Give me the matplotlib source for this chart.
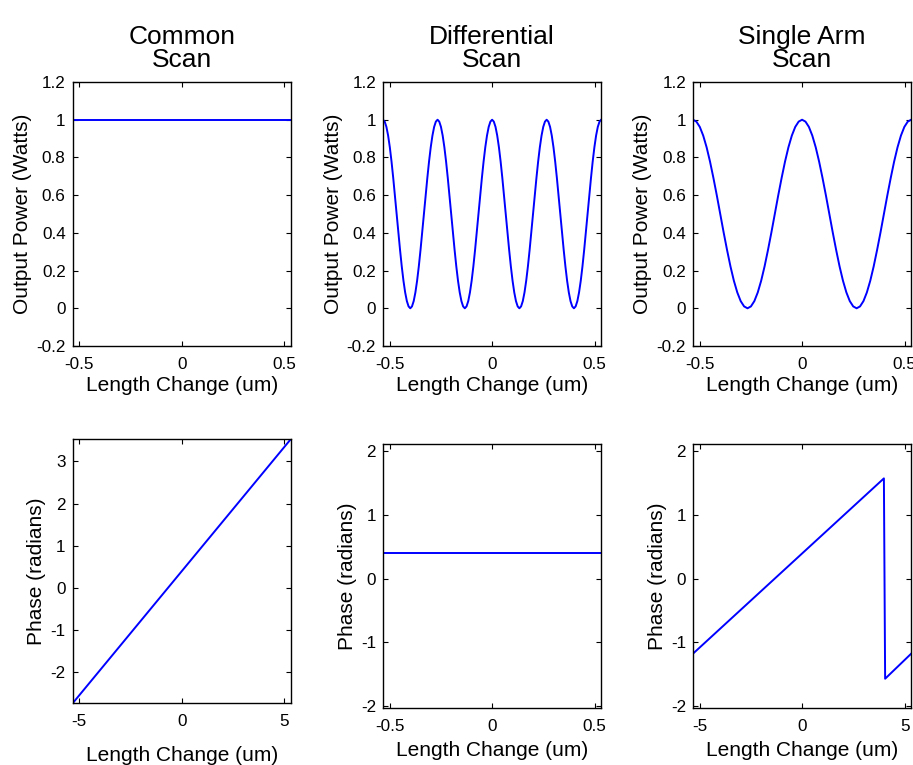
import numpy as np
import matplotlib
matplotlib.use("Agg")
import matplotlib.pyplot as plt

plt.rcParams['font.family'] = ['Liberation Sans', 'DejaVu Sans']

# ---- data ----
titles = ["Common\nScan", "Differential\nScan", "Single Arm\nScan"]

# top row: output power vs length change (um)
common_power_x = [-0.532, 0.532]
common_power = [1.0, 1.0]

# differential scan: 129 samples across +/-0.532 um (4 fringes)
diff_power_x = np.linspace(-0.532, 0.532, 129)
diff_power = [
    1.000, 0.990, 0.962, 0.916, 0.854, 0.778, 0.691, 0.598, 0.500, 0.402, 0.309, 0.222, 0.146, 0.084, 0.038, 0.010,
    0.000, 0.010, 0.038, 0.084, 0.146, 0.222, 0.309, 0.402, 0.500, 0.598, 0.691, 0.778, 0.854, 0.916, 0.962, 0.990,
    1.000, 0.990, 0.962, 0.916, 0.854, 0.778, 0.691, 0.598, 0.500, 0.402, 0.309, 0.222, 0.146, 0.084, 0.038, 0.010,
    0.000, 0.010, 0.038, 0.084, 0.146, 0.222, 0.309, 0.402, 0.500, 0.598, 0.691, 0.778, 0.854, 0.916, 0.962, 0.990,
    1.000, 0.990, 0.962, 0.916, 0.854, 0.778, 0.691, 0.598, 0.500, 0.402, 0.309, 0.222, 0.146, 0.084, 0.038, 0.010,
    0.000, 0.010, 0.038, 0.084, 0.146, 0.222, 0.309, 0.402, 0.500, 0.598, 0.691, 0.778, 0.854, 0.916, 0.962, 0.990,
    1.000, 0.990, 0.962, 0.916, 0.854, 0.778, 0.691, 0.598, 0.500, 0.402, 0.309, 0.222, 0.146, 0.084, 0.038, 0.010,
    0.000, 0.010, 0.038, 0.084, 0.146, 0.222, 0.309, 0.402, 0.500, 0.598, 0.691, 0.778, 0.854, 0.916, 0.962, 0.990,
    1.000,
]

# single arm scan: 65 samples across +/-0.532 um (2 fringes)
single_power_x = np.linspace(-0.532, 0.532, 65)
single_power = [
    1.000, 0.990, 0.962, 0.916, 0.854, 0.778, 0.691, 0.598, 0.500, 0.402, 0.309, 0.222, 0.146, 0.084, 0.038, 0.010,
    0.000, 0.010, 0.038, 0.084, 0.146, 0.222, 0.309, 0.402, 0.500, 0.598, 0.691, 0.778, 0.854, 0.916, 0.962, 0.990,
    1.000, 0.990, 0.962, 0.916, 0.854, 0.778, 0.691, 0.598, 0.500, 0.402, 0.309, 0.222, 0.146, 0.084, 0.038, 0.010,
    0.000, 0.010, 0.038, 0.084, 0.146, 0.222, 0.309, 0.402, 0.500, 0.598, 0.691, 0.778, 0.854, 0.916, 0.962, 0.990,
    1.000,
]

# bottom row: phase (radians)
common_phase_x = [-5.32, 5.32]
common_phase = [-2.749, 3.534]

diff_phase_x = [-0.532, 0.532]
diff_phase = [0.393, 0.393]

single_phase_x = [-5.32, 3.99, 4.05, 5.32]
single_phase = [-1.178, 1.571, -1.571, -1.178]

# ---- figure ----
fig = plt.figure(figsize=(9.13, 7.65), dpi=100, facecolor='white')

col_left = [0.0796, 0.4195, 0.7590]
ax_w = 0.2390
top_row = (0.5477, 0.3451)
bot_rows = [(0.0807, 0.3454), (0.0745, 0.3451), (0.0745, 0.3451)]
bot_labelpad = [12, 5, 5]

blue = (0, 0, 1)
lw = 1.4


def style(ax):
    ax.tick_params(direction='in', length=3.5, width=0.8, top=True, right=True,
                   labelsize=12.3)
    ax.tick_params(axis='x', pad=8)
    ax.tick_params(axis='y', pad=5)
    for s in ax.spines.values():
        s.set_linewidth(1.0)


top_axes = []
for i in range(3):
    ax = fig.add_axes([col_left[i], top_row[0], ax_w, top_row[1]])
    top_axes.append(ax)
    style(ax)
    ax.set_xlim(-0.532, 0.532)
    ax.set_ylim(-0.2, 1.2)
    ax.set_xticks([-0.5, 0, 0.5])
    ax.set_xticklabels(['-0.5', '0', '0.5'])
    ax.set_yticks([-0.2, 0, 0.2, 0.4, 0.6, 0.8, 1.0, 1.2])
    ax.set_yticklabels(['-0.2', '0', '0.2', '0.4', '0.6', '0.8', '1', '1.2'])
    ax.set_xlabel('Length Change (um)', fontsize=15, labelpad=3)
    ax.set_ylabel('Output Power (Watts)', fontsize=15, labelpad=3)
    ax.set_title(titles[i], fontsize=19, pad=11, linespacing=0.95)

top_axes[0].plot(common_power_x, common_power, color=blue, lw=lw)
top_axes[1].plot(diff_power_x, diff_power, color=blue, lw=lw)
top_axes[2].plot(single_power_x, single_power, color=blue, lw=lw)

bot_axes = []
for i in range(3):
    b, h = bot_rows[i]
    ax = fig.add_axes([col_left[i], b, ax_w, h])
    bot_axes.append(ax)
    style(ax)
    ax.set_xlabel('Length Change (um)', fontsize=15, labelpad=bot_labelpad[i])
    ax.set_ylabel('Phase (radians)', fontsize=15, labelpad=3)

ax = bot_axes[0]
ax.plot(common_phase_x, common_phase, color=blue, lw=lw)
ax.set_xlim(-5.32, 5.32)
ax.set_ylim(-2.749, 3.534)
ax.set_xticks([-5, 0, 5])
ax.set_xticklabels(['-5', '0', '5'])
ax.set_yticks([-2, -1, 0, 1, 2, 3])
ax.set_yticklabels(['-2', '-1', '0', '1', '2', '3'])

ax = bot_axes[1]
ax.plot(diff_phase_x, diff_phase, color=blue, lw=lw)
ax.set_xlim(-0.532, 0.532)
ax.set_ylim(-2.03, 2.11)
ax.set_xticks([-0.5, 0, 0.5])
ax.set_xticklabels(['-0.5', '0', '0.5'])
ax.set_yticks([-2, -1, 0, 1, 2])
ax.set_yticklabels(['-2', '-1', '0', '1', '2'])

ax = bot_axes[2]
ax.plot(single_phase_x, single_phase, color=blue, lw=lw)
ax.set_xlim(-5.32, 5.32)
ax.set_ylim(-2.03, 2.11)
ax.set_xticks([-5, 0, 5])
ax.set_xticklabels(['-5', '0', '5'])
ax.set_yticks([-2, -1, 0, 1, 2])
ax.set_yticklabels(['-2', '-1', '0', '1', '2'])

fig.savefig('out.png', dpi=100, facecolor='white')
